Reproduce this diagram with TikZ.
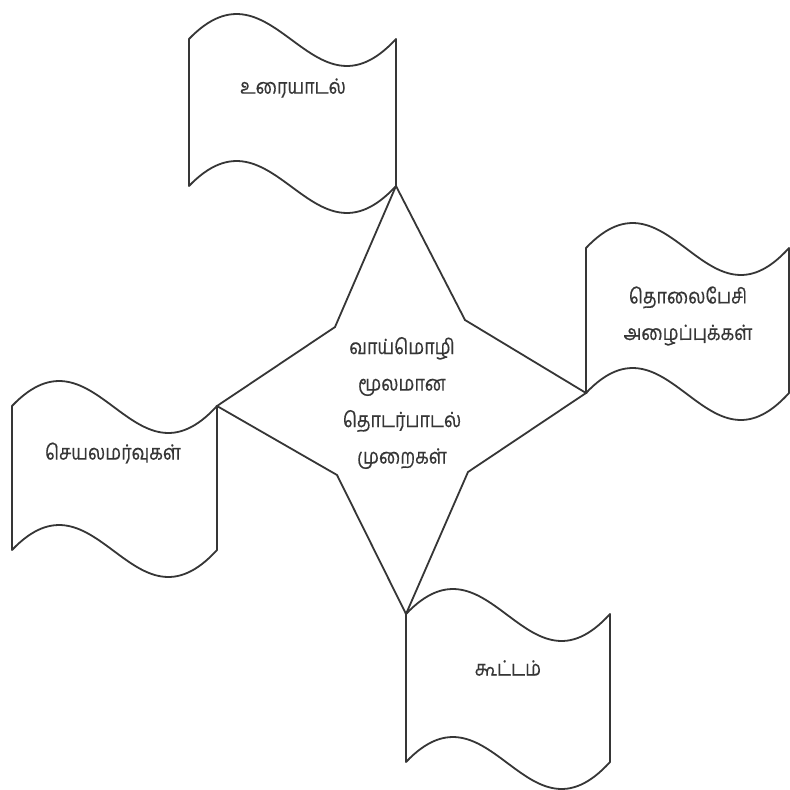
\documentclass[tikz,border=0pt]{standalone}
\usepackage{fontspec}
\newfontfamily\tamil[Script=Tamil,FakeStretch=0.85,FakeBold=0.4]{Hind Madurai}
\definecolor{inkc}{HTML}{363636}
\newcommand\wflag[4]{%
  \pgfmathsetmacro\wa{#1+0.41*(#2-#1)}%
  \pgfmathsetmacro\wb{#1+0.59*(#2-#1)}%
  \draw[flagline] (#1,#3) .. controls (\wa,#3-88) and (\wb,#3+92) .. (#2,#3)
    -- (#2,#4) .. controls (\wb,#4+92) and (\wa,#4-88) .. (#1,#4) -- cycle;}
\begin{document}
\begin{tikzpicture}[x=1pt,y=-1pt,
  flagline/.style={draw=inkc,line width=1.8pt,line join=round},
  starline/.style={draw=inkc,line width=1.8pt,line join=miter},
  lbl/.style={font=\tamil\fontsize{21}{36.5}\selectfont,text=inkc,align=center,inner sep=0pt}]
\useasboundingbox[fill=white] (0,0) rectangle (790,790);
% flags
\wflag{189}{396}{39}{186}
\wflag{586}{789}{248}{393}
\wflag{12}{217}{406}{550}
\wflag{406}{610}{614}{762}
% star
\coordinate (tT) at (396,186);
\coordinate (tR) at (586,393);
\coordinate (tB) at (406,614);
\coordinate (tL) at (217,406);
\coordinate (iUR) at (465,320);
\coordinate (iLR) at (468,472);
\coordinate (iLL) at (337,475);
\coordinate (iUL) at (335,327);
\draw[starline] (tT) -- (iUR) -- (tR) -- (iLR) -- (tB) -- (iLL) -- (tL) -- (iUL) -- cycle;
% labels
\node[lbl] (top) at (293,88) {உரையாடல்};
\node[lbl] (right) at (688,316) {தொலைபேசி\\அழைப்புக்கள்};
\node[lbl] (left) at (113,453) {செயலமர்வுகள்};
\node[lbl] (bottom) at (508,668) {கூட்டம்};
\node[lbl] (center) at (402,403) {வாய்மொழி\\மூலமான\\தொடர்பாடல்\\முறைகள்};
\end{tikzpicture}
\end{document}
